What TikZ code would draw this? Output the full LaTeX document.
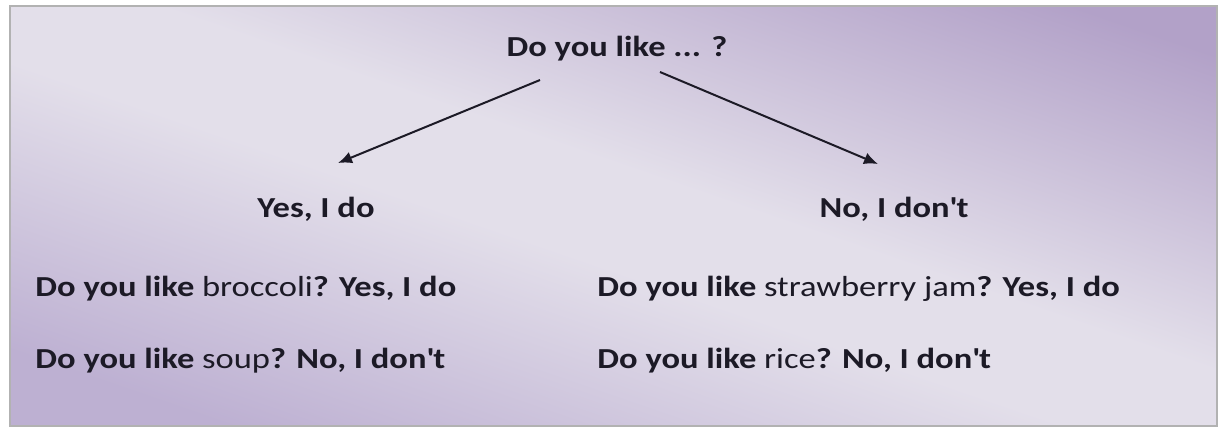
\documentclass[tikz,border=0pt]{standalone}
\usepackage{fontspec}
\setmainfont{Carlito}[FakeStretch=1.19]
\usetikzlibrary{arrows.meta}

\definecolor{lilacdark}{HTML}{B2A1C8}
\definecolor{lilaclight}{HTML}{E3DFEA}
\definecolor{lilacmid}{HTML}{BDB0D2}
\definecolor{inkdark}{HTML}{1C1A26}

% diagonal panel shading: bottom-left lilac, light band, top-right darker lilac
\pgfdeclareverticalshading{panelshade}{100bp}{
    color(0bp)=(lilacmid); color(24bp)=(lilacmid); color(46bp)=(lilaclight);
    color(54bp)=(lilaclight); color(78bp)=(lilacdark); color(100bp)=(lilacdark)}

\tikzset{
    answer/.style={font=\fontsize{14.5}{17}\selectfont\bfseries, text=inkdark, inner sep=0pt},
    example/.style={font=\fontsize{14.5}{17}\selectfont, text=inkdark, inner sep=0pt, anchor=base west},
    branch/.style={-{Latex[length=7pt,width=6pt]}, line width=1pt, inkdark}
}

\begin{document}
\begin{tikzpicture}[x=0.5pt,y=-0.5pt]
    \useasboundingbox[fill=white] (0,0) rectangle (1221,430);
    % Background panel
    \shade[shading=panelshade, shading angle=-19] (10,6) rectangle (1217,426);
    \draw[line width=1.2pt, gray!60] (10,6) rectangle (1217,426);

    % Nodes
    \node[answer, anchor=base] (ask) at (617,56) {Do you like ... ?};
    \node[answer, anchor=base] (yes) at (316,217) {Yes, I do};
    \node[answer, anchor=base] (no) at (894,217) {No, I don\textquotesingle t};
    \node[example] (yesA) at (35,296) {\textbf{Do you like} broccoli\textbf{? Yes, I do}};
    \node[example] (yesB) at (35,368) {\textbf{Do you like} soup\textbf{? No, I don\textquotesingle t}};
    \node[example] (noA) at (597,296) {\textbf{Do you like} strawberry jam\textbf{? Yes, I do}};
    \node[example] (noB) at (597,368) {\textbf{Do you like} rice\textbf{? No, I don\textquotesingle t}};

    % Arrows
    \draw[branch] ([shift={(-77,24)}]ask.base) -- ([shift={(22,-54)}]yes.base);
    \draw[branch] ([shift={(43,16)}]ask.base) -- ([shift={(-16,-53)}]no.base);
\end{tikzpicture}
\end{document}
